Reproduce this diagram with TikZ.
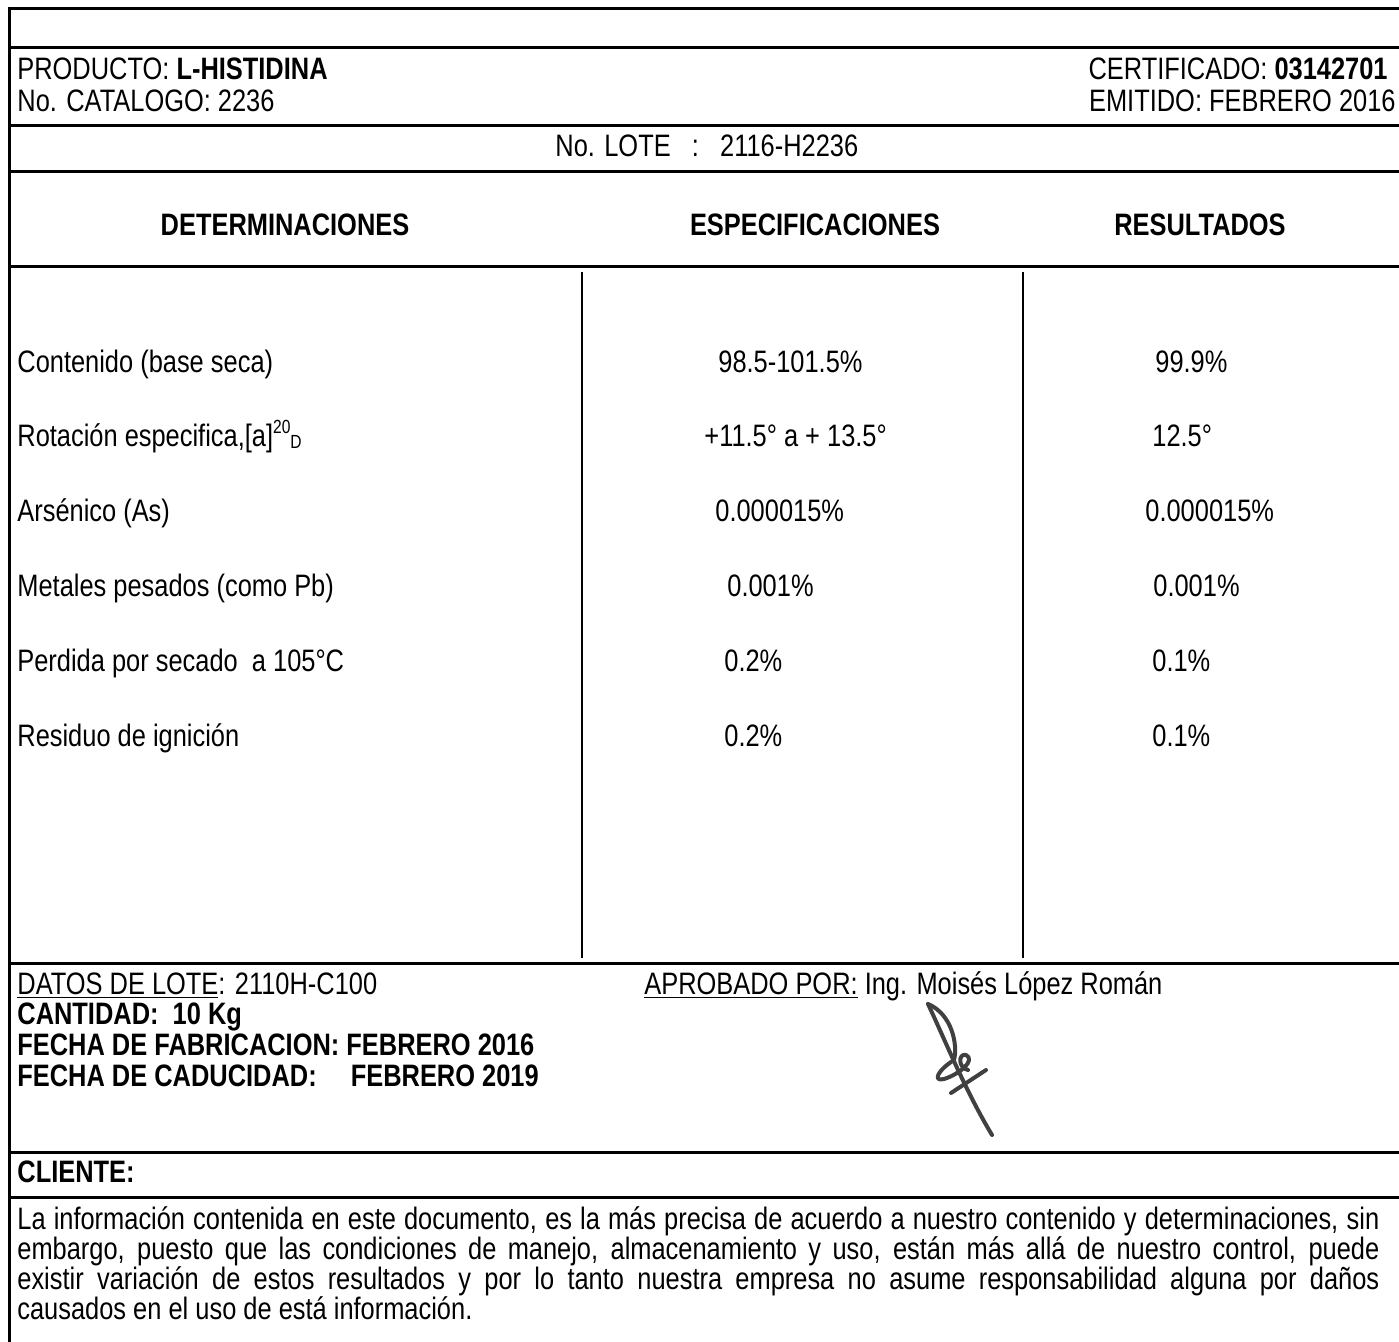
\documentclass[tikz,border=0pt]{standalone}
\usepackage{fontspec}
\setmainfont{Liberation Sans}[FakeStretch=0.82]
\newcommand{\basefont}{\fontsize{15.5pt}{15pt}\selectfont}
\newcommand{\supfont}{\fontsize{9.5pt}{9.5pt}\selectfont}
\begin{document}
\begin{tikzpicture}[
		x=0.5pt, y=-0.5pt,
		font=\basefont,
		rule/.style={line width=1.5pt},
		colrule/.style={line width=1pt},
		txt/.style={inner sep=0pt, anchor=base west},
		rtxt/.style={inner sep=0pt, anchor=base east},
		hdr/.style={inner sep=0pt, anchor=base, font=\basefont\bfseries},
		para/.style={inner sep=0pt, anchor=base west, text width=681pt, align=justify},
		sign/.style={line width=2pt, black!75, line cap=round, line join=round}
		]
		\useasboundingbox (0,0) rectangle (1399,1342);
		
		% ---- Frame and horizontal rules ----
		\draw[rule] (1420,9) -- (9,9) -- (9,1360);
		\draw[rule] (9,48)   -- (1420,48);
		\draw[rule] (9,126)  -- (1420,126);
		\draw[rule] (9,172)  -- (1420,172);
		\draw[rule] (9,267)  -- (1420,267);
		\draw[rule] (9,963)  -- (1420,963);
		\draw[rule] (9,1152) -- (1420,1152);
		\draw[rule] (9,1197) -- (1420,1197);
		
		% ---- Column separators ----
		\draw[colrule] (582,272)  -- (582,958);
		\draw[colrule] (1023,272) -- (1023,958);
		
		% ---- Product header ----
		\node[txt]  (prod) at (17,80)    {PRODUCTO: \textbf{L-HISTIDINA}};
		\node[txt]  (cat)  at (17,112)   {No. CATALOGO: 2236};
		\node[rtxt] (cert) at (1388,80)  {CERTIFICADO: \textbf{03142701}};
		\node[rtxt] (emit) at (1396,112) {EMITIDO: FEBRERO 2016};
		\node[txt]  (lote) at (555,157)  {No. LOTE\ \ \ :\ \ \ 2116-H2236};
		
		% ---- Column titles ----
		\node[hdr] (hdet) at (285,236)  {DETERMINACIONES};
		\node[hdr] (hesp) at (815,236)  {ESPECIFICACIONES};
		\node[hdr] (hres) at (1200,236) {RESULTADOS};
		
		% ---- Determinaciones ----
		\node[txt] (d1) at (17,373) {Contenido (base seca)};
		\node[txt] (d2) at (17,447) {Rotación especifica,[a]\raisebox{0.45em}{\supfont 20}\raisebox{-0.05em}{\supfont D}};
		\node[txt] (d3) at (17,522) {Arsénico (As)};
		\node[txt] (d4) at (17,597) {Metales pesados (como Pb)};
		\node[txt] (d5) at (17,672) {Perdida por secado\ \ a 105°C};
		\node[txt] (d6) at (17,747) {Residuo de ignición};
		
		% ---- Especificaciones ----
		\node[txt] (e1) at (718,373) {98.5-101.5\%};
		\node[txt] (e2) at (704,447) {+11.5° a + 13.5°};
		\node[txt] (e3) at (715,522) {0.000015\%};
		\node[txt] (e4) at (727,597) {0.001\%};
		\node[txt] (e5) at (724,672) {0.2\%};
		\node[txt] (e6) at (724,747) {0.2\%};
		
		% ---- Resultados ----
		\node[txt] (r1) at (1155,373) {99.9\%};
		\node[txt] (r2) at (1152,447) {12.5°};
		\node[txt] (r3) at (1145,522) {0.000015\%};
		\node[txt] (r4) at (1153,597) {0.001\%};
		\node[txt] (r5) at (1152,672) {0.1\%};
		\node[txt] (r6) at (1152,747) {0.1\%};
		
		% ---- Lot data and approval ----
		\node[txt] (datos) at (17,994)  {\underline{DATOS DE LOTE}: 2110H-C100};
		\node[txt] (cant)  at (17,1024) {\textbf{CANTIDAD:\ \ 10 Kg}};
		\node[txt] (fab)   at (17,1055) {\textbf{FECHA DE FABRICACION: FEBRERO 2016}};
		\node[txt] (cad)   at (17,1086) {\textbf{FECHA DE CADUCIDAD:\hspace{1.1em}FEBRERO 2019}};
		\node[txt] (aprob) at (644,994) {\underline{APROBADO POR:} Ing. Moisés López Román};
		
		% signature
		\draw[sign] (928,1004) .. controls (945,1040) and (965,1090) .. (992,1135);
		\draw[sign] (928,1004) .. controls (952,1014) and (958,1045) .. (954,1060)
			.. controls (938,1070) and (932,1082) .. (944,1079)
			.. controls (960,1074) and (976,1060) .. (966,1055)
			.. controls (958,1053) and (958,1068) .. (968,1070);
		\draw[sign] (951,1093) -- (986,1070);
		
		% ---- Client and note ----
		\node[txt] (cli) at (17,1182) {\textbf{CLIENTE:}};
		\node[para] (nota) at (17,1229)
		{La información contenida en este documento, es la más precisa de acuerdo a nuestro contenido y determinaciones, sin\linebreak
			embargo, puesto que las condiciones de manejo, almacenamiento y uso, están más allá de nuestro control, puede\linebreak
			existir variación de estos resultados y por lo tanto nuestra empresa no asume responsabilidad alguna por daños\linebreak
			causados en el uso de está información.};
	\end{tikzpicture}
\end{document}
